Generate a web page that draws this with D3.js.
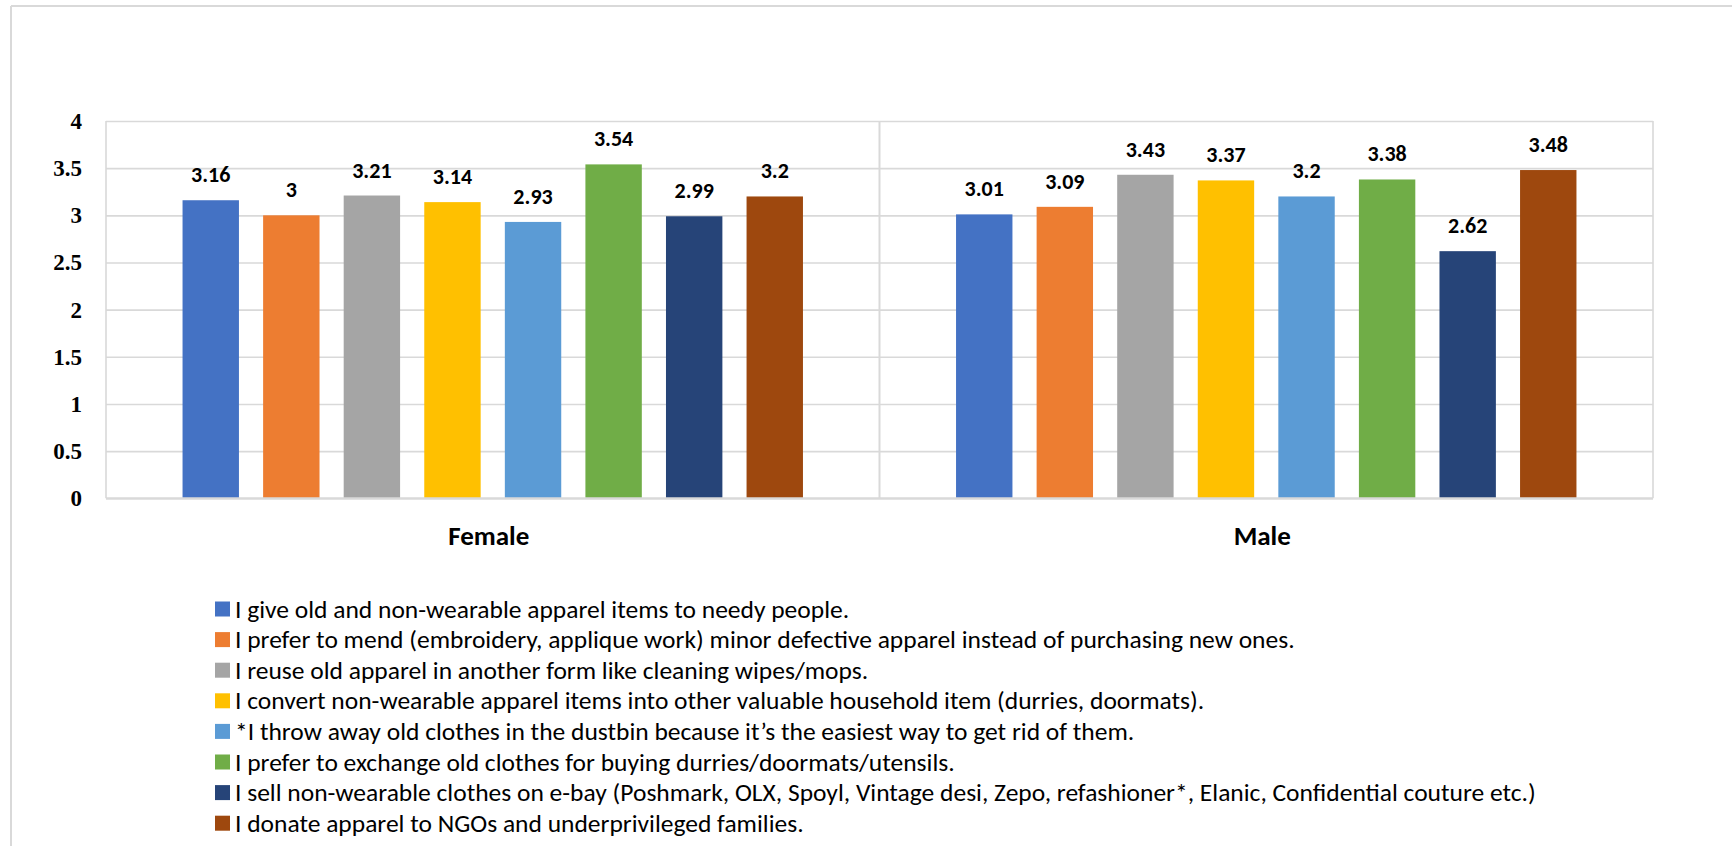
<!DOCTYPE html>
<html>
<head>
<meta charset="utf-8">
<script src="https://cdn.jsdelivr.net/npm/d3@7/dist/d3.min.js"></script>
<style>
  html, body { margin: 0; padding: 0; background: #ffffff; }
  svg { display: block; }
</style>
</head>
<body>
<svg id="chart" width="1732" height="846"></svg>
<script>
// Groups on the x axis
const categories = ["Female", "Male"];

// One series per statement
const seriesNames = [
  "I give old and non-wearable apparel items to needy people.",
  "I prefer to mend (embroidery, applique work) minor defective apparel instead of purchasing new ones.",
  "I reuse old apparel in another form like cleaning wipes/mops.",
  "I convert non-wearable apparel items into other valuable household item (durries, doormats).",
  "*I throw away old clothes in the dustbin because it\u2019s the easiest way to get rid of them.",
  "I prefer to exchange old clothes for buying durries/doormats/utensils.",
  "I sell non-wearable clothes on e-bay (Poshmark, OLX, Spoyl, Vintage desi, Zepo, refashioner*, Elanic, Confidential couture etc.)",
  "I donate apparel to NGOs and underprivileged families."
];

// Mean scores per statement
const femaleValues = [3.16, 3, 3.21, 3.14, 2.93, 3.54, 2.99, 3.2];
const maleValues   = [3.01, 3.09, 3.43, 3.37, 3.2, 3.38, 2.62, 3.48];

// Y axis ticks
const yTicks = [0, 0.5, 1, 1.5, 2, 2.5, 3, 3.5, 4];

// Series colours
const colors = ["#4472C4", "#ED7D31", "#A5A5A5", "#FFC000", "#5B9BD5", "#70AD47", "#264478", "#9E480E"];

const valuesByCategory = { Female: femaleValues, Male: maleValues };

const svg = d3.select("#chart");
const W = 1732, H = 846;
const plot = { left: 106, right: 1653, top: 121, bottom: 498.3 };
const gridColor = "#d9d9d9";
const sansFont = "Carlito, Lato, 'Liberation Sans', sans-serif";

// Outer chart frame (left and top edges visible)
svg.append("line").attr("x1", 11).attr("x2", 11).attr("y1", 6).attr("y2", H)
  .attr("stroke", gridColor).attr("stroke-width", 2);
svg.append("line").attr("x1", 11).attr("x2", W).attr("y1", 6).attr("y2", 6)
  .attr("stroke", gridColor).attr("stroke-width", 2);

const y = d3.scaleLinear().domain([0, 4]).range([plot.bottom, plot.top]);
const x0 = d3.scaleBand().domain(categories).range([plot.left, plot.right]).padding(0);
const x1 = d3.scaleBand().domain(d3.range(seriesNames.length))
  .range([0, x0.bandwidth()]).paddingInner(0.3).paddingOuter(0.95);

// Horizontal gridlines
const grid = svg.append("g")
  .attr("transform", `translate(${plot.left},0)`)
  .call(d3.axisLeft(y).tickValues(yTicks).tickSize(-(plot.right - plot.left)).tickFormat(""));
grid.select(".domain").remove();
grid.selectAll(".tick line").attr("stroke", gridColor).attr("stroke-width", 1.6);

// Plot frame: left, right edges and category divider
[plot.left, plot.right].forEach(xv => {
  svg.append("line").attr("x1", xv).attr("x2", xv).attr("y1", plot.top).attr("y2", plot.bottom)
    .attr("stroke", gridColor).attr("stroke-width", 1.6);
});
categories.slice(1).forEach(c => {
  const xv = x0(c);
  svg.append("line").attr("x1", xv).attr("x2", xv).attr("y1", plot.top).attr("y2", plot.bottom)
    .attr("stroke", gridColor).attr("stroke-width", 2);
});

// Bars
const groups = svg.append("g").selectAll("g")
  .data(categories).join("g")
  .attr("transform", d => `translate(${x0(d)},0)`);

groups.selectAll("rect")
  .data(c => valuesByCategory[c].map((v, i) => ({ v, i })))
  .join("rect")
  .attr("x", d => x1(d.i))
  .attr("width", x1.bandwidth())
  .attr("y", d => y(d.v))
  .attr("height", d => y(0) - y(d.v))
  .attr("fill", d => colors[d.i]);

// Value labels
groups.selectAll("text.val")
  .data(c => valuesByCategory[c].map((v, i) => ({ v, i })))
  .join("text")
  .attr("class", "val")
  .attr("x", d => x1(d.i) + x1.bandwidth() / 2)
  .attr("y", d => y(d.v) - 18)
  .attr("text-anchor", "middle")
  .attr("font-family", sansFont)
  .attr("font-weight", "bold")
  .attr("font-size", 22)
  .attr("fill", "#000")
  .text(d => String(d.v));

// Bottom axis line
svg.append("line").attr("x1", plot.left).attr("x2", plot.right)
  .attr("y1", plot.bottom).attr("y2", plot.bottom)
  .attr("stroke", gridColor).attr("stroke-width", 2.2);

// Y axis labels
const yAxis = svg.append("g")
  .attr("transform", `translate(${plot.left - 24},0)`)
  .call(d3.axisLeft(y).tickValues(yTicks).tickSize(0).tickPadding(0).tickFormat(d => String(d)));
yAxis.select(".domain").remove();
yAxis.selectAll("text")
  .attr("font-family", "'Liberation Serif', 'Times New Roman', serif")
  .attr("font-weight", "bold")
  .attr("font-size", 23)
  .attr("fill", "#000");

// Category labels
svg.append("g").selectAll("text")
  .data(categories).join("text")
  .attr("x", d => x0(d) + x0.bandwidth() / 2 - 4)
  .attr("y", 545)
  .attr("text-anchor", "middle")
  .attr("font-family", sansFont)
  .attr("font-weight", "bold")
  .attr("font-size", 27)
  .attr("fill", "#000")
  .text(d => d);

// Legend
const legend = svg.append("g").attr("transform", "translate(215,0)");
const rowY0 = 617.5, rowStep = 30.6;
const rows = legend.selectAll("g").data(seriesNames).join("g")
  .attr("transform", (d, i) => `translate(0,${rowY0 + i * rowStep})`);
rows.append("rect").attr("x", 0).attr("y", -16).attr("width", 15).attr("height", 15)
  .attr("fill", (d, i) => colors[i]);
rows.append("text").attr("x", 20).attr("y", 0)
  .attr("font-family", sansFont)
  .attr("font-size", 25.5)
  .attr("fill", "#000")
  .text(d => d);
</script>
</body>
</html>
